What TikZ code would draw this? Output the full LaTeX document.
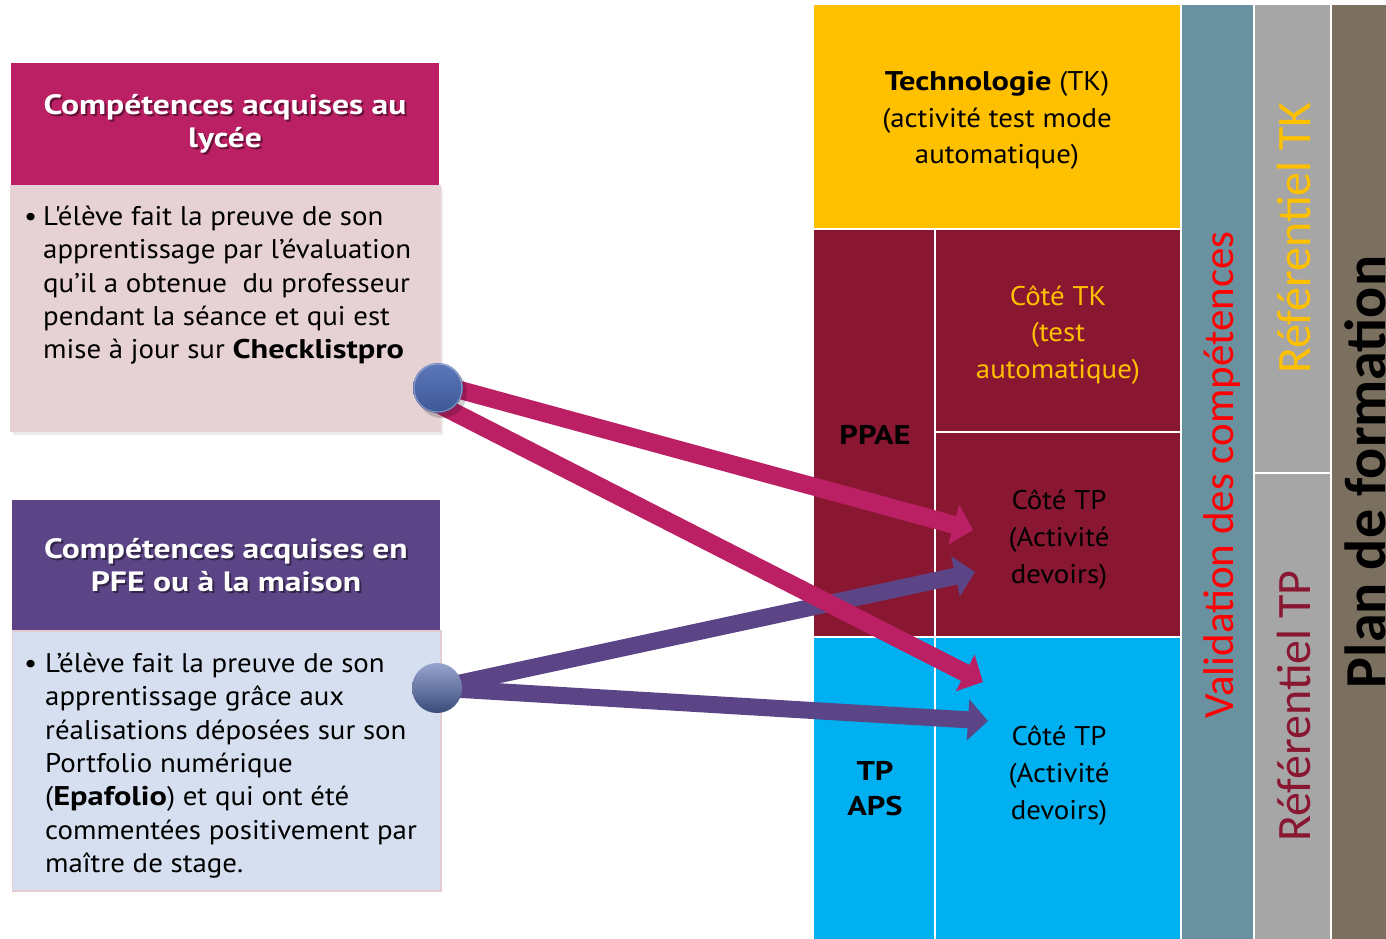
\documentclass[tikz,border=0pt]{standalone}
\usepackage{fontspec}
\setmainfont{PT Sans}[Ligatures=TeXOff, FakeStretch=1.07]
\newfontfamily\gillbold{PT Sans Bold}[Ligatures=TeXOff, FakeStretch=1.2]
\newfontfamily\calibri{Carlito}
\usetikzlibrary{arrows.meta,calc}

\definecolor{hdrA}{HTML}{BB2065}
\definecolor{hdrB}{HTML}{5C4586}
\definecolor{bodyA}{HTML}{E6D1D5}
\definecolor{bodyB}{HTML}{D5DFEF}
\definecolor{bodyBline}{HTML}{E4CDD2}
\definecolor{tkyel}{HTML}{FFC000}
\definecolor{ppae}{HTML}{891732}
\definecolor{aps}{HTML}{00B0F0}
\definecolor{valid}{HTML}{6A91A0}
\definecolor{refgray}{HTML}{A6A6A6}
\definecolor{plan}{HTML}{7B705F}

\tikzset{
  hdrtext/.style={text=white, align=center, inner sep=0pt,
    font=\gillbold\fontsize{28}{33}\selectfont},
  hdrshadow/.style={hdrtext, text=black, opacity=0.45},
  bodytext/.style={anchor=north west, inner sep=0pt, align=left,
    font=\fontsize{27}{33.3}\selectfont},
  bullet/.style={anchor=base west, inner sep=0pt,
    font=\fontsize{27}{33.3}\selectfont},
  gridtext/.style={align=center, inner sep=0pt,
    font=\fontsize{27}{36.7}\selectfont},
  gridbold/.style={align=center, inner sep=0pt,
    font=\gillbold\fontsize{27}{35}\selectfont},
  coltext/.style={rotate=90, anchor=base, inner sep=0pt},
  flowarrow/.style={draw=#1, line width=18pt,
    -{Triangle[width=40pt,length=20pt]}},
}

\begin{document}
\begin{tikzpicture}[x=1pt,y=-1pt]
\useasboundingbox (0,0) rectangle (1386,939);
\clip (0,0) rectangle (1386,939);

% ---- left: competence boxes ----
\fill[black, opacity=0.08] (13,188) rectangle (443,435);
\fill[hdrA] (11,63) rectangle (439,185);
\fill[bodyA] (10,185) rectangle (441,432);
\node[hdrshadow] (hdrAsh) at (227,126) {Compétences acquises au\\lycée};
\node[hdrtext] (hdrAt) at (225,124) {Compétences acquises au\\lycée};
\node[bullet] (bulA) at (24,225) {•};
\node[bodytext] (txtA) at (43,206) {L'élève fait la preuve de son\\
  apprentissage par l’évaluation\\
  qu’il a obtenue\ \ du professeur\\
  pendant la séance et qui est\\
  mise à jour sur {\gillbold Checklistpro}};

\fill[hdrB] (12,500) rectangle (440,630);
\filldraw[fill=bodyB, draw=bodyBline, line width=1.5pt] (12.5,631) rectangle (441,891);
\node[hdrshadow] (hdrBsh) at (228,567) {Compétences acquises en\\PFE ou à la maison};
\node[hdrtext] (hdrBt) at (226,565) {Compétences acquises en\\PFE ou à la maison};
\node[bullet] (bulB) at (24,672) {•};
\node[bodytext] (txtB) at (45,653) {L’élève fait la preuve de son\\
  apprentissage grâce aux\\
  réalisations déposées sur son\\
  Portfolio numérique\\
  ({\gillbold Epafolio}) et qui ont été\\
  commentées positivement par\\
  maître de stage.};

% ---- right: grid of activities ----
\fill[tkyel] (814,5) rectangle (1180,228);
\fill[ppae] (814,230) rectangle (934,636);
\fill[ppae] (936,230) rectangle (1180,431);
\fill[ppae] (936,433) rectangle (1180,636);
\fill[aps] (814,638) rectangle (934,939);
\fill[aps] (936,638) rectangle (1180,939);
\fill[valid] (1182,5) rectangle (1253,939);
\fill[refgray] (1255,5) rectangle (1330,472);
\fill[refgray] (1255,474) rectangle (1330,939);
\fill[plan] (1332,5) rectangle (1386,939);

\node[gridtext] (tk) at (997,120.5) {{\gillbold Technologie} (TK)\\(activité test mode\\automatique)};
\node[gridtext, text=tkyel] (cotetk) at (1058,335) {Côté TK\\(test\\automatique)};
\node[gridtext, text=black] (cotetpA) at (1059,539.5) {Côté TP\\(Activité\\devoirs)};
\node[gridtext, text=black] (cotetpB) at (1059,775.5) {Côté TP\\(Activité\\devoirs)};
\node[gridbold, anchor=base] (ppae) at (875,444) {PPAE};
\node[gridbold] (tpaps) at (875,789) {TP\\APS};

% ---- vertical column titles ----
\node[coltext, text=red, font=\calibri\fontsize{43}{50}\selectfont] (valtxt) at (1233,475) {Validation des compétences};
\node[coltext, text=tkyel, font=\calibri\fontsize{48}{55}\selectfont] (reftk) at (1310,238) {Référentiel TK};
\node[coltext, text=ppae, font=\calibri\fontsize{48}{55}\selectfont] (reftp) at (1310,706) {Référentiel TP};
\node[coltext, text=black, font=\calibri\bfseries\fontsize{58}{65}\selectfont] (plantxt) at (1385,472) {Plan de formation};

% ---- connectors ----
\node[circle, minimum size=50pt, inner sep=0pt] (ballA) at (438,388) {};
\node[circle, minimum size=50pt, inner sep=0pt] (ballB) at (437,688) {};
\coordinate (tipA1) at (973,530);
\coordinate (tipA2) at (983,682);
\coordinate (tipB1) at (975,572);
\coordinate (tipB2) at (988,721);

\draw[flowarrow=hdrB, line width=17pt] (ballB.center) -- (tipB1);
\draw[flowarrow=hdrB, line width=17pt] (ballB.center) -- (tipB2);
\draw[flowarrow=hdrA] ($(ballA.center)+(0,-4)$) -- (tipA1);
\draw[flowarrow=hdrA] ($(ballA.center)+(0,16)$) -- (tipA2);

\fill[black, opacity=0.18] ($(ballA.center)+(4,5)$) circle (25);
\shade[top color={rgb,255:red,92;green,120;blue,186}, bottom color={rgb,255:red,62;green,88;blue,150}]
  (ballA.center) circle (25);
\draw[white, opacity=0.35, line width=1pt] (ballA.center) circle (24);
\shade[top color={rgb,255:red,152;green,164;blue,206}, bottom color={rgb,255:red,58;green,75;blue,122}]
  (ballB.center) circle (25);
\end{tikzpicture}
\end{document}
